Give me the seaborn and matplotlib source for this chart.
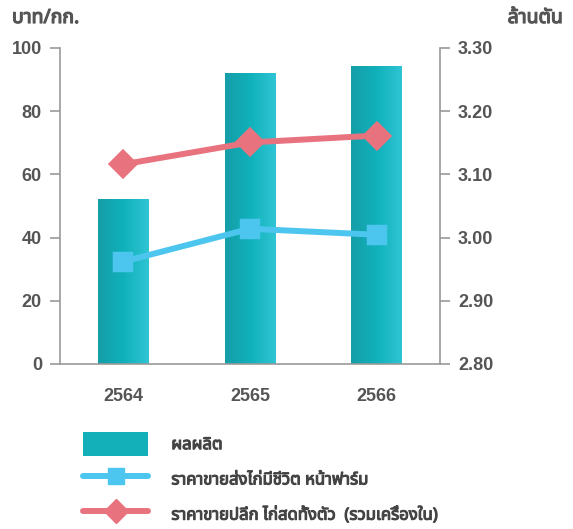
import numpy as np
import matplotlib
matplotlib.use("Agg")
import matplotlib.pyplot as plt
import matplotlib.patheffects as pe
import seaborn as sns
from matplotlib.patches import Patch
from matplotlib.lines import Line2D
from matplotlib.colors import LinearSegmentedColormap

# ── data ─────────────────────────────────────────────
years = ["2564", "2565", "2566"]
production = [3.061, 3.260, 3.272]        # ล้านตัน (right axis)
live_farm_price = [32.4, 42.8, 40.9]      # บาท/กก. (left axis)
retail_price = [63.2, 70.1, 72.3]         # บาท/กก. (left axis)

legend_labels = ["ผลผลิต",
                 "ราคาขายส่งไก่มีชีวิต หน้าฟาร์ม",
                 "ราคาขายปลีก ไก่สดทั้งตัว  (รวมเครื่องใน)"]

BAR_C = "#14b0ba"
BLUE = "#4cc6ee"
RED = "#e8737f"
GREY = "#555555"
SPINE = "#9a9a9a"

sns.set_style("white")
plt.rcParams["font.family"] = ["Noto Sans Thai", "Noto Sans", "Liberation Sans", "DejaVu Sans"]

fig = plt.figure(figsize=(5.73, 5.29), dpi=100)
ax = fig.add_axes([60/573, 1-364/529, 380/573, 316/529])
ax2 = ax.twinx()

# bars on the production axis
sns.barplot(x=years, y=production, ax=ax2, color=BAR_C, width=0.4,
            saturation=1, linewidth=0)
ax2.set_ylim(2.80, 3.30)

# gradient fill on the bars
cmap = LinearSegmentedColormap.from_list("bar", ["#159ea8", "#10b1bb", "#2fc4d3"])
grad = np.linspace(0, 1, 64).reshape(1, -1)
for p in list(ax2.patches):
    x0, y0 = p.get_x(), p.get_y()
    w, h = p.get_width(), p.get_height()
    im = ax2.imshow(grad, cmap=cmap, aspect="auto",
                    extent=(x0, x0 + w, 2.80, y0 + h), zorder=p.get_zorder())
    im.set_clip_path(p)

# price lines on the left axis
sns.pointplot(x=years, y=retail_price, ax=ax, color=RED, markers="D",
              markersize=12, linewidth=4.3)
sns.pointplot(x=years, y=live_farm_price, ax=ax, color=BLUE, markers="s",
              markersize=11, linewidth=4.3)
ax.set_ylim(0, 100)
ax.set_xlim(-0.5, 2.5)
ax2.set_xlim(-0.5, 2.5)

ax.set_zorder(ax2.get_zorder() + 1)
ax.patch.set_visible(False)

# axes styling
for a in (ax, ax2):
    for s in a.spines.values():
        s.set_visible(False)
    a.set_xlabel("")
    a.set_ylabel("")
ax.spines["left"].set_visible(True)
ax.spines["bottom"].set_visible(True)
ax2.spines["right"].set_visible(True)
for s in (ax.spines["left"], ax.spines["bottom"], ax2.spines["right"]):
    s.set_color(SPINE)
    s.set_linewidth(1.2)

tick_font = dict(family=["Liberation Sans", "DejaVu Sans"], weight="bold", size=13)

ax.set_yticks([0, 20, 40, 60, 80, 100])
ax.set_yticklabels([str(v) for v in [0, 20, 40, 60, 80, 100]], **tick_font)
ax.tick_params(axis="y", direction="out", length=7, width=1.2, color=SPINE,
               labelcolor=GREY, pad=6, left=True)

ax2.set_yticks([2.80, 2.90, 3.00, 3.10, 3.20, 3.30])
ax2.set_yticklabels([f"{v:.2f}" for v in [2.80, 2.90, 3.00, 3.10, 3.20, 3.30]], **tick_font)
ax2.tick_params(axis="y", direction="out", length=7, width=1.2, color=SPINE,
                labelcolor=GREY, pad=6, right=True)

ax.set_xticks([-0.5, 0.5, 1.5, 2.5])
ax.set_xticklabels([])
ax.set_xticks([0, 1, 2], minor=True)
ax.set_xticklabels(years, minor=True, **tick_font)
ax.tick_params(axis="x", which="major", direction="out", length=7, width=1.2,
               color=SPINE, bottom=True)
ax.tick_params(axis="x", which="minor", length=0, labelcolor=GREY, pad=17)
ax2.set_xticks([])

# unit labels (stroke to thicken the Thai glyphs)
thick = [pe.withStroke(linewidth=0.9, foreground=GREY)]
fig.text(12/573, 1-18/529, "บาท/กก.", fontsize=14, color=GREY, weight="bold",
         va="center", ha="left", path_effects=thick)
fig.text(563/573, 1-18/529, "ล้านตัน", fontsize=14, color=GREY, weight="bold",
         va="center", ha="right", path_effects=thick)

# legend
handles = [
    Patch(facecolor=BAR_C, edgecolor="none"),
    Line2D([0], [0], color=BLUE, lw=4.3, marker="s", markersize=11),
    Line2D([0], [0], color=RED, lw=4.3, marker="D", markersize=12),
]
leg = fig.legend(handles, legend_labels, loc="upper left",
                 bbox_to_anchor=(68/573, 1-417/529), frameon=False,
                 handlelength=3.9, handleheight=1.8, handletextpad=1.4,
                 labelspacing=0.7, prop=dict(size=12, weight="bold"),
                 labelcolor="#444444")
for t in leg.get_texts():
    t.set_path_effects([pe.withStroke(linewidth=0.8, foreground="#444444")])

fig.savefig("out.png", dpi=100)
